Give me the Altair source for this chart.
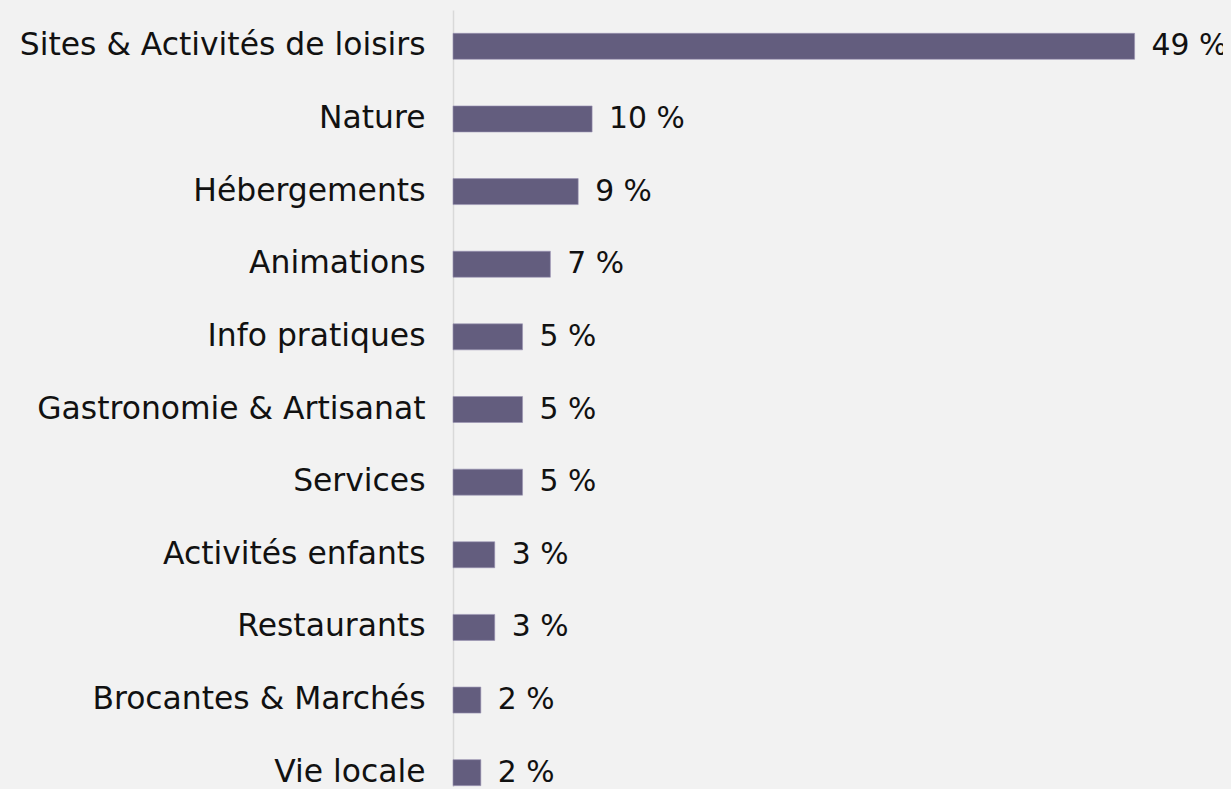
import altair as alt
import jinja2
import pandas as pd

categories = [
    "Sites & Activités de loisirs",
    "Nature",
    "Hébergements",
    "Animations",
    "Info pratiques",
    "Gastronomie & Artisanat",
    "Services",
    "Activités enfants",
    "Restaurants",
    "Brocantes & Marchés",
    "Vie locale",
]
values = [49, 10, 9, 7, 5, 5, 5, 3, 3, 2, 2]
labels = [f"{v} %" for v in values]

df = pd.DataFrame({"cat": categories, "val": values, "lab": labels})

FONT = "DejaVu Sans"

y = alt.Y(
    "cat:N",
    sort=categories,
    title=None,
    scale=alt.Scale(range=[0, 799], paddingInner=0.642, paddingOuter=0.321),
    axis=alt.Axis(
        domainColor="#d9d9d9",
        domainWidth=1.5,
        ticks=False,
        labelFont=FONT,
        labelFontSize=31.4,
        labelColor="#111111",
        labelPadding=28,
        labelLimit=600,
    ),
)
x = alt.X("val:Q", title=None, scale=alt.Scale(domain=[0, 55.93], nice=False), axis=None)

bars = alt.Chart(df).mark_bar(color="#635d7e", stroke="#9a94b3", strokeWidth=0.6).encode(y=y, x=x)
text = alt.Chart(df).mark_text(
    align="left", baseline="middle", dx=17, font=FONT, fontSize=29.8, color="#111111"
).encode(y=y, x=x, text="lab:N")

chart = (
    alt.layer(bars, text)
    .properties(
        width=778,
        height=777,
        background="#f2f2f2",
        autosize=alt.AutoSizeParams(type="none"),
        padding={"left": 445, "top": 2, "right": 0, "bottom": 0},
    )
    .configure_view(strokeWidth=0)
)

TEMPLATE = jinja2.Template(
    """<!DOCTYPE html>
<html>
<head>
<meta charset="utf-8">
<style>html, body { background: #f2f2f2; overflow: hidden; }</style>
<script type="text/javascript" src="{{ base_url }}/vega@{{ vega_version }}"></script>
<script type="text/javascript" src="{{ base_url }}/vega-lite@{{ vegalite_version }}"></script>
<script type="text/javascript" src="{{ base_url }}/vega-embed@{{ vegaembed_version }}"></script>
</head>
<body>
<div id="{{ output_div }}"></div>
<script type="text/javascript">
  vegaEmbed("#{{ output_div }}", {{ spec }}, {{ embed_options }}).catch(console.error);
</script>
</body>
</html>
"""
)

chart.save("out.html", embed_options={"renderer": "svg", "actions": False}, template=TEMPLATE)
